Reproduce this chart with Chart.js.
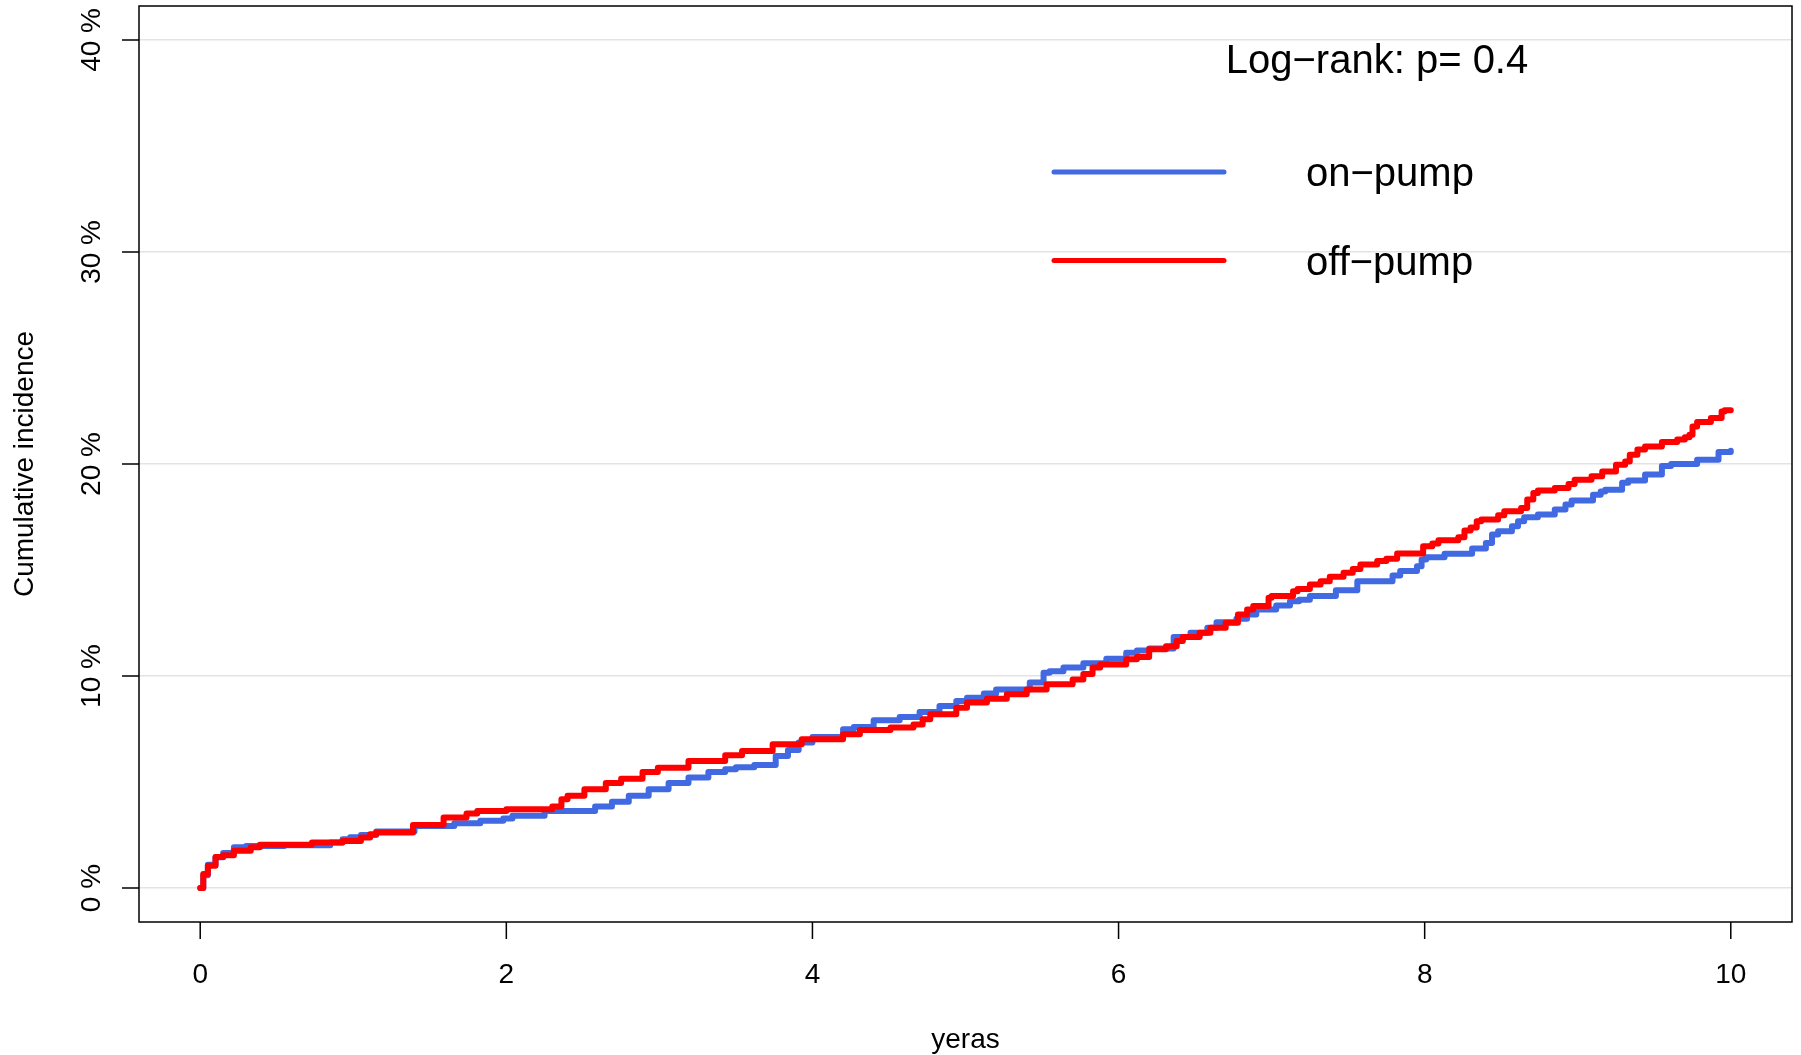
<!DOCTYPE html>
<html>
<head>
<meta charset="utf-8">
<title>Cumulative incidence</title>
<script src="https://cdn.jsdelivr.net/npm/chart.js@4.4.1/dist/chart.umd.min.js"></script>
<style>
  html,body{margin:0;padding:0;background:#fff;}
  canvas{display:block;}
</style>
</head>
<body>
<canvas id="incidenceChart" width="1801" height="1055"></canvas>
<script>
// step points: time (years) of each jump and the cumulative incidence (%) after it
const onPumpTimes = [0,0.02,0.05,0.1,0.15,0.22,0.3,0.55,0.85,0.93,0.98,1.05,1.15,1.4,1.66,1.83,1.98,2.04,2.25,2.58,2.69,2.8,2.93,3.06,3.19,3.32,3.43,3.5,3.62,3.76,3.84,3.91,4.0,4.2,4.27,4.4,4.57,4.7,4.83,4.94,5.01,5.12,5.2,5.42,5.51,5.55,5.64,5.77,5.92,6.05,6.12,6.2,6.36,6.47,6.58,6.64,6.77,6.84,6.9,7.03,7.12,7.18,7.25,7.42,7.56,7.79,7.84,7.95,7.98,8.01,8.13,8.31,8.4,8.44,8.48,8.57,8.61,8.65,8.74,8.85,8.92,8.96,9.1,9.15,9.18,9.29,9.33,9.44,9.55,9.61,9.78,9.92,10.0];
const onPumpPct = [0,0.6,1.1,1.45,1.65,1.93,1.98,2.02,2.15,2.3,2.4,2.5,2.67,2.93,3.06,3.17,3.28,3.41,3.64,3.85,4.07,4.35,4.66,4.95,5.21,5.48,5.6,5.7,5.8,6.23,6.51,6.87,7.13,7.49,7.6,7.91,8.07,8.3,8.59,8.82,8.98,9.18,9.37,9.69,10.16,10.22,10.4,10.6,10.82,11.1,11.2,11.3,11.84,12.04,12.28,12.54,12.7,12.9,13.14,13.33,13.53,13.6,13.77,14.05,14.47,14.74,14.95,15.18,15.5,15.6,15.77,16.01,16.28,16.67,16.83,17.07,17.3,17.49,17.62,17.85,18.09,18.28,18.55,18.7,18.79,19.11,19.22,19.5,19.9,20.0,20.2,20.57,20.63];
const offPumpTimes = [0,0.02,0.05,0.1,0.15,0.22,0.33,0.39,0.73,0.93,1.05,1.11,1.15,1.39,1.59,1.74,1.81,2.0,2.3,2.36,2.4,2.51,2.65,2.75,2.89,2.99,3.19,3.43,3.54,3.74,3.93,4.2,4.31,4.51,4.66,4.72,4.77,4.94,5.01,5.14,5.27,5.4,5.53,5.7,5.77,5.83,5.88,6.05,6.12,6.2,6.31,6.38,6.42,6.53,6.6,6.7,6.78,6.84,6.88,6.98,7.0,7.14,7.17,7.25,7.32,7.38,7.47,7.53,7.58,7.69,7.75,7.82,7.99,8.05,8.09,8.22,8.26,8.3,8.34,8.37,8.48,8.52,8.63,8.67,8.71,8.74,8.85,8.94,8.98,9.09,9.16,9.25,9.31,9.34,9.39,9.44,9.55,9.65,9.7,9.73,9.75,9.78,9.87,9.94,9.96,10.0];
const offPumpPct = [0,0.66,1.05,1.46,1.55,1.76,1.93,2.04,2.15,2.22,2.39,2.54,2.62,2.98,3.33,3.52,3.64,3.72,3.85,4.19,4.35,4.66,4.95,5.16,5.48,5.68,5.99,6.26,6.47,6.78,7.02,7.25,7.46,7.57,7.72,7.96,8.2,8.5,8.75,8.93,9.14,9.37,9.61,9.84,10.1,10.4,10.55,10.79,10.9,11.26,11.41,11.65,11.84,12.04,12.28,12.51,12.9,13.14,13.3,13.69,13.77,14.0,14.1,14.32,14.47,14.68,14.87,15.05,15.26,15.42,15.53,15.78,16.12,16.25,16.4,16.55,16.86,17.0,17.3,17.38,17.58,17.77,17.93,18.32,18.63,18.75,18.87,19.06,19.26,19.42,19.65,19.97,20.12,20.44,20.68,20.83,21.04,21.15,21.26,21.38,21.77,21.98,22.17,22.48,22.53,22.53];

const xTicks = [0,2,4,6,8,10];
const yTicks = [0,10,20,30,40];
const yTickLabels = ['0 %','10 %','20 %','30 %','40 %'];
const seriesNames = ['on\u2212pump','off\u2212pump'];
const seriesColors = ['#4169E1','#FF0000'];
const testText = 'Log\u2212rank: p= 0.4';

const FONT = '"Liberation Sans", Arial, Helvetica, sans-serif';

function toPoints(ts, vs){ return ts.map((t,i)=>({x:t, y:vs[i]})); }

// R-style frame, ticks, labels and legend
const basePlot = {
  id:'basePlot',
  afterDraw(chart){
    const {ctx, chartArea:a, scales:{x,y}} = chart;
    ctx.save();
    ctx.strokeStyle = '#000';
    ctx.lineWidth = 1.5;
    ctx.strokeRect(a.left, a.top, a.right-a.left, a.bottom-a.top);
    ctx.beginPath();
    xTicks.forEach(v=>{ const px=x.getPixelForValue(v); ctx.moveTo(px,a.bottom); ctx.lineTo(px,a.bottom+17); });
    yTicks.forEach(v=>{ const py=y.getPixelForValue(v); ctx.moveTo(a.left,py); ctx.lineTo(a.left-17,py); });
    ctx.stroke();

    ctx.fillStyle = '#000';
    ctx.font = '28px ' + FONT;
    ctx.textAlign = 'center';
    ctx.textBaseline = 'alphabetic';
    xTicks.forEach(v=>ctx.fillText(String(v), x.getPixelForValue(v), a.bottom+61));
    ctx.fillText('yeras', (a.left+a.right)/2, a.bottom+126);
    yTicks.forEach((v,i)=>{
      ctx.save();
      ctx.translate(a.left-39, y.getPixelForValue(v));
      ctx.rotate(-Math.PI/2);
      ctx.fillText(yTickLabels[i], 0, 0);
      ctx.restore();
    });
    ctx.save();
    ctx.translate(33, (a.top+a.bottom)/2);
    ctx.rotate(-Math.PI/2);
    ctx.fillText('Cumulative incidence', 0, 0);
    ctx.restore();

    // test result + legend
    ctx.font = '40px ' + FONT;
    ctx.fillText(testText, 1377, 73);
    ctx.textAlign = 'left';
    ctx.lineCap = 'round';
    ctx.lineWidth = 5;
    seriesNames.forEach((name,i)=>{
      const ly = 172 + i*88.5;
      ctx.strokeStyle = seriesColors[i];
      ctx.beginPath(); ctx.moveTo(1054,ly); ctx.lineTo(1224,ly); ctx.stroke();
      ctx.fillText(name, 1306, ly+14);
    });
    ctx.restore();
  }
};

new Chart(document.getElementById('incidenceChart').getContext('2d'),{
  type:'line',
  data:{
    datasets:[
      {label:seriesNames[0],data:toPoints(onPumpTimes,onPumpPct),borderColor:seriesColors[0],borderWidth:6,
        stepped:true,pointRadius:0,fill:false,order:2,borderCapStyle:'round',borderJoinStyle:'round'},
      {label:seriesNames[1],data:toPoints(offPumpTimes,offPumpPct),borderColor:seriesColors[1],borderWidth:6,
        stepped:true,pointRadius:0,fill:false,order:1,borderCapStyle:'round',borderJoinStyle:'round'}
    ]
  },
  options:{
    responsive:false,animation:false,events:[],
    layout:{padding:{left:139,top:6,right:9,bottom:133}},
    plugins:{legend:{display:false},tooltip:{enabled:false}},
    scales:{
      x:{type:'linear',min:-0.4,max:10.4,
        grid:{display:false,drawTicks:false},border:{display:false},ticks:{display:false},
        afterBuildTicks:s=>{ s.ticks = xTicks.map(v=>({value:v})); }},
      y:{type:'linear',min:-1.6,max:41.6,
        grid:{color:'#e3e3e3',lineWidth:1.5,drawTicks:false},border:{display:false},ticks:{display:false},
        afterBuildTicks:s=>{ s.ticks = yTicks.map(v=>({value:v})); }}
    }
  },
  plugins:[basePlot]
});
</script>
</body>
</html>
